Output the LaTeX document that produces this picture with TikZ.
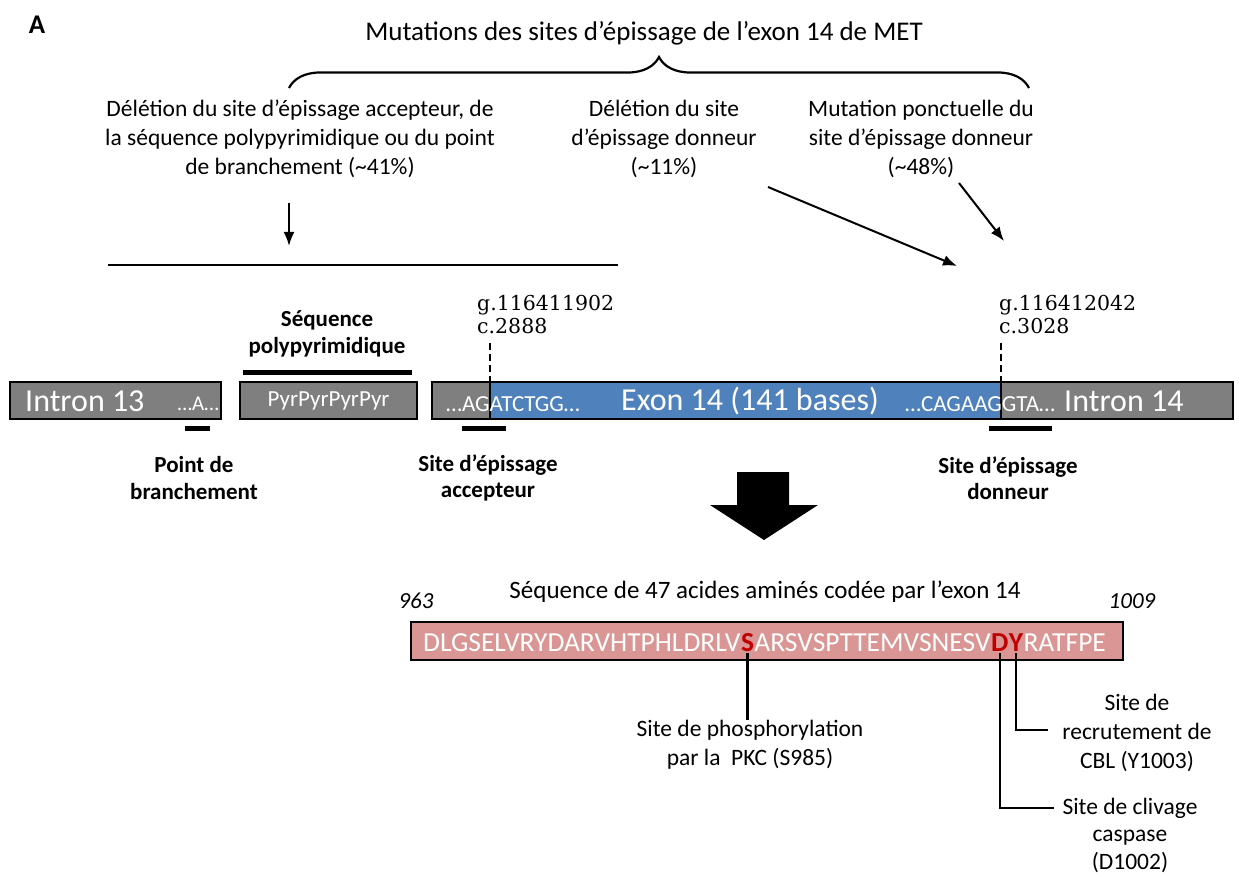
\documentclass[tikz,border=0pt]{standalone}
\usepackage{fontspec}
\setmainfont{Carlito}
\newfontfamily\coordfont{DejaVu Serif}
\usepackage{tikz}
\usetikzlibrary{positioning}
\usetikzlibrary{arrows.meta}
\usetikzlibrary{decorations.pathreplacing}

\definecolor{grisintron}{RGB}{127,127,127}
\definecolor{azulexon}{RGB}{79,129,189}
\definecolor{rosaprot}{RGB}{217,150,148}
\definecolor{rojositio}{RGB}{192,0,0}

\tikzset{
  texto/.style={font=\fontsize{23.5}{29}\selectfont, align=center, inner sep=0pt},
  negrita/.style={font=\fontsize{23}{26.5}\selectfont\bfseries, align=center, inner sep=0pt},
  coord/.style={font=\coordfont\fontsize{20.5}{23}\selectfont, align=left, inner sep=0pt},
  enbox/.style={text=white, inner sep=0pt},
  caja/.style={draw=black, line width=2.2pt, inner sep=0pt},
  barra/.style={line width=5pt},
  linea/.style={line width=2.2pt},
  flecha/.style={line width=2pt, arrows={-Latex[length=14pt, width=11pt]}},
  aa/.style={font=\fontsize{27.5}{27.5}\selectfont, text=white, inner xsep=0pt, inner ysep=2pt},
  aarojo/.style={text=rojositio, font=\fontsize{27.5}{27.5}\selectfont\bfseries},
}

\begin{document}
\begin{tikzpicture}[x=1pt, y=-1pt]
  \useasboundingbox (0,0) rectangle (1239,877);
  \node[font=\fontsize{27}{27}\selectfont\bfseries] (panel) at (37,25) {A};
  \node[texto, font=\fontsize{27}{30}\selectfont] (titulo) at (644,33) {Mutations des sites d’épissage de l’exon 14 de MET};
  \draw[linea, decorate, decoration={brace, amplitude=31pt}] (289,88) -- (1029,88); % llave
  % tipos de mutaciones
  \node[texto, anchor=north] (mut1) at (300,100) {Délétion du site d’épissage accepteur, de\\la séquence polypyrimidique ou du point\\de branchement (\textasciitilde41\%)};
  \node[texto, anchor=north] (mut2) at (664,100) {Délétion du site\\d’épissage donneur\\(\textasciitilde11\%)};
  \node[texto, anchor=north] (mut3) at (921,100) {Mutation ponctuelle du\\site d’épissage donneur\\(\textasciitilde48\%)};
  \coordinate (f1a) at (289,203);
  \coordinate (f1b) at (289,246);
  \coordinate (f2a) at (768,187);
  \coordinate (f2b) at (957,266);
  \coordinate (f3a) at (959,183);
  \coordinate (f3b) at (1004,241);
  \draw[flecha] (f1a) -- (f1b); % vertical
  \draw[flecha] (f2a) -- (f2b);
  \draw[flecha] (f3a) -- (f3b);
  \draw[linea] (108,265) -- (618,265); % region delecion
  % gen
  \node[caja, fill=grisintron, minimum width=211pt, minimum height=37pt] (intron13) at (115.5,400.5) {};
  \node[caja, fill=grisintron, minimum width=177pt, minimum height=37pt] (pyr) at (328.5,400.5) {};
  \fill[grisintron] (432,382) rectangle (490,419);
  \fill[azulexon] (490,382) rectangle (1001,419);
  \fill[grisintron] (1001,382) rectangle (1233,419);
  \node[caja, minimum width=801pt, minimum height=37pt] (exon) at (832.5,400.5) {};
  \draw[line width=1.4pt] (490,382) -- (490,419);
  \draw[line width=1.4pt] (1001,382) -- (1001,419);
  \node[enbox, anchor=west, font=\fontsize{32}{32}\selectfont] (tin13) at (25,401) {Intron 13};
  \node[enbox, anchor=east, font=\fontsize{21}{21}\selectfont] (ptA) at (219,404) {…A…};
  \node[enbox, font=\fontsize{23}{23}\selectfont] (tpyr) at (pyr.center) {PyrPyrPyrPyr};
  \node[enbox, anchor=west, font=\fontsize{23}{23}\selectfont] (tacc) at (446,404) {…AGATCTGG…};
  \node[enbox, font=\fontsize{32}{32}\selectfont] (tex14) at (750,401) {Exon 14 (141 bases)};
  \node[enbox, anchor=west, font=\fontsize{23}{23}\selectfont] (tdon) at (905,404) {…CAGAAGGTA…};
  \node[enbox, anchor=west, font=\fontsize{32}{32}\selectfont] (tin14) at (1064,401) {Intron 14};
  % posiciones
  \node[coord, anchor=north west] (pos1) at (477,295) {g.116411902\\c.2888};
  \node[coord, anchor=north west] (pos2) at (999,295) {g.116412042\\c.3028};
  \draw[linea, dash pattern=on 7pt off 4pt] (490,343) -- (490,382);
  \draw[linea, dash pattern=on 7pt off 4pt] (1001,343) -- (1001,382);
  \node[negrita] (pyrlab) at (327,334) {Séquence\\polypyrimidique};
  \draw[barra] (243,372) -- (412,372);
  \draw[barra] (185,428) -- (210,428);
  \draw[barra] (462,428) -- (506,428);
  \draw[barra] (989,428) -- (1052,428);
  \node[negrita] (branch) at (194,478) {Point de\\branchement};
  \node[negrita] (accept) at (488,478) {Site d’épissage\\accepteur};
  \node[negrita] (donneur) at (1008,478) {Site d’épissage\\donneur};
  \fill (737,472) -- (789,472) -- (789,505) -- (818,505) -- (764,540) -- (710,505) -- (737,505) -- cycle; % flecha grande
  % proteina
  \node[texto, font=\fontsize{25}{28}\selectfont] (titseq) at (765,592) {Séquence de 47 acides aminés codée par l’exon 14};
  \node[texto, font=\fontsize{23}{28}\selectfont\itshape] (n963) at (416,601) {963};
  \node[texto, font=\fontsize{23}{28}\selectfont\itshape] (n1009) at (1132,601) {1009};
  \node[caja, fill=rosaprot, minimum width=712pt, minimum height=38pt] (prot) at (767,641) {};
  \node[aa, anchor=base west] (seqA) at (423,651) {DLGSELVRYDARVHTPHLDRLV};
  \node[aa, aarojo, anchor=base west] (resS) at (seqA.base east) {S};
  \node[aa, anchor=base west] (seqB) at (resS.base east) {ARSVSPTTEMVSNESV};
  \node[aa, aarojo, anchor=base west] (resD) at (seqB.base east) {D};
  \node[aa, aarojo, anchor=base west] (resY) at (resD.base east) {Y};
  \node[aa, anchor=base west] (seqC) at (resY.base east) {RATFPE};
  \node[texto, anchor=north] (phos) at (750,720) {Site de phosphorylation\\par la\ \ PKC (S985)};
  \node[texto] (recrut) at (1137,733) {Site de\\recrutement de\\CBL (Y1003)};
  \node[texto, font=\fontsize{23.5}{27.5}\selectfont] (clivage) at (1130,835) {Site de clivage\\caspase\\(D1002)};
  \coordinate (cY) at (1048,730);
  \coordinate (cD) at (1054,808);
  \draw[linea] (resS.south) -- (resS.south |- phos.north);
  \draw[linea] (resY.south) |- (cY);
  \draw[linea] (resD.south) |- (cD);
\end{tikzpicture}
\end{document}
